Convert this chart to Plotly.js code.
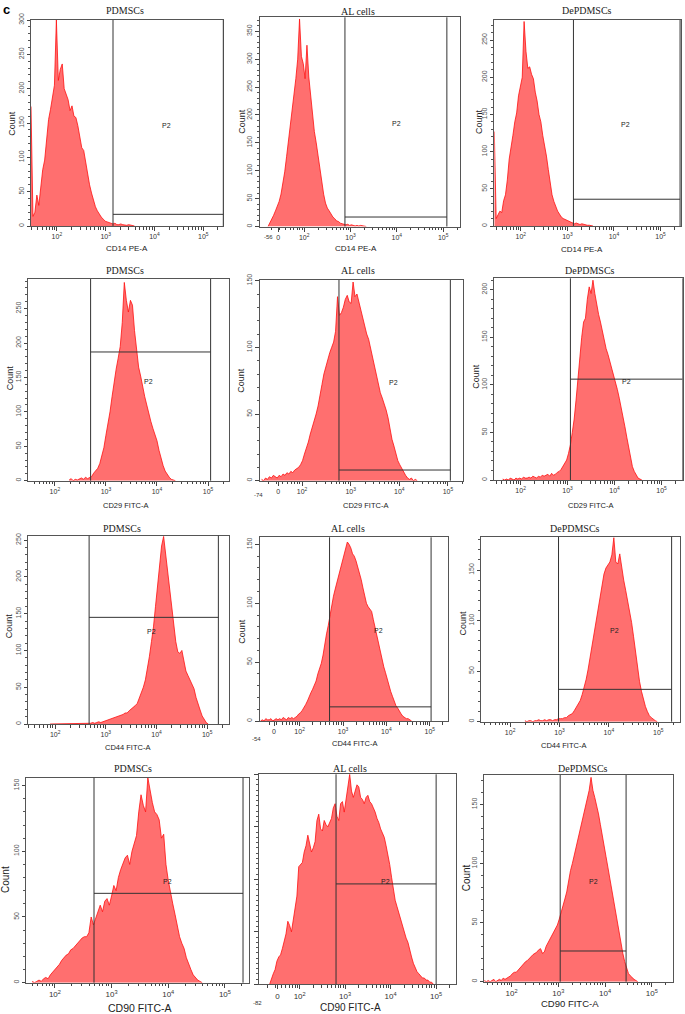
<!DOCTYPE html>
<html><head><meta charset="utf-8">
<script src="https://cdn.plot.ly/plotly-3.0.1.min.js"></script>
<style>html,body{margin:0;padding:0;background:#fff}#chart{width:685px;height:1014px}</style>
</head><body><div id="chart"></div>
<script>
// ---------------- DATA (counts per bin, bins in display decades) ----------------
const binWidth = 0.04;
const cellTypes = ["PDMSCs", "AL cells", "DePDMSCs"];
const markers = ["CD14 PE-A", "CD29 FITC-A", "CD44 FITC-A", "CD90 FITC-A"];
const decadeTickVals = [2, 3, 4, 5];
const decadeTickText = ["10<sup>2</sup>", "10<sup>3</sup>", "10<sup>4</sup>", "10<sup>5</sup>"];
const yMajorStep = 50;

// CD14 PE-A
const cd14_PDMSCs_start = 1.47;
const cd14_PDMSCs = [174,14,20,45,30,60,82,96,122,155,170,185,205,300,212,228,236,200,190,184,168,175,160,158,146,130,114,110,92,78,60,48,38,28,22,17,13,10,7,6,5,4,3,4,2,2,3,2,1,1,2,1,1,0];
const cd14_AL_start = 1.22;
const cd14_AL = [0,6,12,20,28,36,45,58,75,98,125,152,180,205,238,265,300,372,305,292,265,325,268,232,200,170,150,126,100,78,58,42,33,28,22,17,14,10,9,6,5,4,3,4,2,3,2,1,2,1,2,1,1,0];
const cd14_DePDMSCs_start = 1.43;
const cd14_DePDMSCs = [127,10,15,20,18,34,42,62,90,104,122,140,152,175,186,200,275,235,212,214,204,198,180,168,150,140,122,110,94,76,58,42,33,26,20,16,12,10,9,8,6,5,4,3,4,3,2,3,2,2,1,1,1,0];
// CD29 FITC-A
const cd29_PDMSCs_start = 2.28;
const cd29_PDMSCs = [1,3,0,2,1,3,4,2,5,3,4,6,11,14,18,25,35,48,66,82,100,122,144,162,178,195,230,288,262,245,262,255,218,188,165,152,134,122,110,96,86,76,66,58,44,32,22,14,9,5,2,1,0];
const cd29_AL_start = 1.17;
const cd29_AL = [1,0,2,1,3,2,4,3,2,4,3,5,4,6,5,7,6,8,9,10,12,15,20,24,29,35,40,44,50,56,63,72,80,86,90,96,100,104,112,138,124,126,130,136,139,134,133,149,138,140,134,128,120,115,110,106,99,92,85,78,72,66,62,58,53,47,38,31,26,20,15,12,9,6,4,2,1,2,0,1,0];
const cd29_DePDMSCs_start = 1.62;
const cd29_DePDMSCs = [1,0,1,0,2,1,0,2,1,2,1,3,2,2,3,2,4,3,2,4,3,5,4,5,6,4,7,5,6,8,9,11,14,17,21,28,37,50,64,84,108,128,150,166,170,190,203,196,210,196,184,174,166,156,146,138,132,125,118,110,102,95,86,77,68,56,45,34,22,14,9,5,2,1,0];
// CD44 FITC-A
const cd44_PDMSCs_start = 1.90;
const cd44_PDMSCs = [0,0,1,0,0,1,0,0,0,1,0,0,0,0,0,0,0,0,0,0,1,2,1,2,3,2,3,4,5,5,7,8,8,10,11,12,13,15,15,18,20,22,25,28,35,42,50,60,74,92,112,132,160,185,208,242,255,230,205,178,155,132,112,98,96,100,84,72,66,60,56,48,36,26,19,11,6,2,0];
const cd44_AL_start = 1.10;
const cd44_AL = [0,1,0,2,1,1,2,0,1,2,1,2,1,3,2,1,3,2,3,2,3,4,6,7,9,11,14,17,21,24,27,30,34,40,44,49,56,66,74,81,90,98,106,112,118,124,130,134,142,146,152,150,147,142,140,136,131,125,120,113,106,100,97,95,93,86,79,73,67,60,53,46,41,35,30,25,21,16,13,11,8,6,4,3,2,2,1,0];
const cd44_DePDMSCs_start = 2.30;
const cd44_DePDMSCs = [1,0,1,1,0,1,1,2,1,1,2,1,2,2,1,2,2,3,3,3,4,4,6,7,8,11,14,17,21,27,34,42,52,64,75,87,102,114,126,136,146,152,155,158,165,182,158,156,166,150,140,130,120,108,98,84,68,54,40,30,21,15,10,6,4,2,1,0];
// CD90 FITC-A
const cd90_PDMSCs_start = 1.60;
const cd90_PDMSCs = [1,0,1,2,1,3,4,3,6,8,10,12,14,17,19,21,22,25,26,28,30,32,34,35,35,38,50,44,49,55,59,54,62,64,59,66,74,70,80,86,90,95,97,90,100,106,112,130,143,135,130,156,145,137,130,128,124,110,113,90,78,68,60,52,44,35,30,26,19,14,10,6,4,2,1,0];
const cd90_AL_start = 1.34;
const cd90_AL = [0,3,5,7,11,13,14,17,20,24,30,28,25,31,35,42,56,57,58,63,66,71,66,63,65,68,78,81,74,73,78,76,75,77,79,84,86,80,78,86,87,82,88,94,100,92,89,92,95,94,89,88,86,89,90,87,86,84,82,79,77,74,72,70,66,62,57,51,45,40,37,34,30,27,24,22,20,16,13,10,8,6,5,4,3,3,2,2,1,1,0];
const cd90_DePDMSCs_start = 1.42;
const cd90_DePDMSCs = [1,0,1,0,1,2,0,1,2,1,3,2,3,4,5,7,8,8,10,11,14,15,17,18,20,21,23,24,25,27,28,24,25,30,33,37,40,42,45,48,53,58,64,70,76,86,94,100,107,114,121,127,134,140,148,155,162,173,162,156,150,142,133,125,116,106,97,88,79,70,60,50,40,31,24,17,11,7,5,3,2,1,0];

// P2 gate (display decades / count)
const gateLow   = [3.15, 2.88, 3.13, 2.70, 2.76, 3.06, 2.67, 2.69, 2.98, 2.69, 2.80, 3.04];
const gateHigh  = [5.41, 5.08, 5.42, 5.05, 5.05, 5.45, 5.22, 5.03, 5.27, 5.32, 5.00, 4.45];
const gateLevel = [17, 17, 36, 187, 8, 106, 145, 12, 32, 68, 47.8, 26];
const gateLabelX = [4.24, 4.00, 4.25, 3.83, 3.88, 4.25, 3.90, 3.81, 4.11, 3.98, 3.88, 3.75];
const gateLabelY = [147, 185, 136, 144, 74, 103, 126, 77, 90, 77, 49, 85];
// axis extents
const xRanges = [[1.47,5.41],[1.04,5.37],[1.43,5.44],[1.48,5.41],[1.13,5.31],[1.44,5.45],[1.47,5.43],[1.08,5.42],[1.41,5.44],[1.49,5.42],[1.10,5.43],[1.41,5.46]];
const yMax = [300, 375, 277, 293, 150.5, 212, 256, 156, 183, 156, 100, 175];
// biexponential "0" tick and negative minimum label for AL cells panels
const zeroTickPos = {1: 1.44, 4: 1.51, 7: 1.41, 10: 1.51};
const negMinLabel = {1: "-56", 4: "-74", 7: "-54", 10: "-82"};

// ---------------- LAYOUT GEOMETRY (pixels) ----------------
const W = 685, H = 1014;
const boxes = [[31,20,223.3,226],[259.7,17.3,460.3,226.5],[494.3,20,681,226],
  [28.3,279,229,480.7],[259.7,280,463,480.7],[494.3,278.3,682.7,480],
  [28.3,535.7,229,724],[259.7,537.3,448,721],[481,536.7,680,721.7],
  [26,777.7,248.7,982.7],[258.7,774.3,455.7,984.3],[484,775,673.3,981.7]];
const titlePos = [[125,11],[358,11.7],[586.7,11],[125,270.7],[358,270.7],[590,270.7],[121.7,528.3],[348,528.3],[575,528.3],[133.3,768.3],[350.3,768.3],[583.3,768.3]];
const xTitlePos = [[127,248],[356,248],[582,249],[125,505],[365,505],[590,505],[127,747],[354,743],[563,745],[140,1008],[350,1007],[570,1003]];
const countPos = [[11.7,123],[242,121.7],[478.3,121.7],[10,378.3],[240.7,380],[476,376.7],[9.3,626],[242,631.7],[463.3,623.3],[5,880],null,[466,878.3]];
const negLabelPos = {1:[268,237], 4:[258,495], 7:[256.3,739.3], 10:[257.3,1003.3]};
const xTitleSize = [8,8,8,7.5,7.5,7.5,7.5,7.5,7.5,10.5,10,9.5];

const series = [
  [cd14_PDMSCs, cd14_PDMSCs_start],[cd14_AL, cd14_AL_start],[cd14_DePDMSCs, cd14_DePDMSCs_start],
  [cd29_PDMSCs, cd29_PDMSCs_start],[cd29_AL, cd29_AL_start],[cd29_DePDMSCs, cd29_DePDMSCs_start],
  [cd44_PDMSCs, cd44_PDMSCs_start],[cd44_AL, cd44_AL_start],[cd44_DePDMSCs, cd44_DePDMSCs_start],
  [cd90_PDMSCs, cd90_PDMSCs_start],[cd90_AL, cd90_AL_start],[cd90_DePDMSCs, cd90_DePDMSCs_start]
];

const minorLogTicks = [];
for (let d = 0; d <= 5; d++) for (let k = 2; k <= 9; k++) minorLogTicks.push(d + Math.log10(k));

const px2x = p => p / W, px2y = p => 1 - p / H;
const SANS = "Liberation Sans, Arial, sans-serif";
const SERIF = "Liberation Serif, Times New Roman, serif";

const traces = [], shapes = [], annotations = [];
const layout = {
  width: W, height: H, margin: {l:0, r:0, t:0, b:0},
  paper_bgcolor: "#fff", plot_bgcolor: "#fff", showlegend: false
};

series.forEach(([counts, start], i) => {
  const n = i + 1, sfx = n === 1 ? "" : String(n);
  const row = Math.floor(i / 3), col = i % 3;
  const [L, T, R, B] = boxes[i];
  const xa = "x" + sfx, ya = "y" + sfx;
  traces.push({
    type: "scatter", mode: "lines", y: counts, x0: start, dx: binWidth,
    xaxis: xa, yaxis: ya, fill: "tozeroy", fillcolor: "rgba(255,70,70,0.78)",
    line: {color: "#ff1010", width: 0.8}, hoverinfo: "skip"
  });
  let tv = decadeTickVals.slice(), tt = decadeTickText.slice();
  if (zeroTickPos[i] !== undefined) { tv.unshift(zeroTickPos[i]); tt.unshift("0"); }
  const tickSize = row === 3 ? 8 : 7;
  layout["xaxis" + sfx] = {
    domain: [px2x(L), px2x(R)], range: xRanges[i], anchor: ya,
    showline: true, mirror: true, linecolor: "#555", linewidth: 1,
    showgrid: false, zeroline: false, ticks: "outside", ticklen: 4, tickwidth: 1, tickcolor: "#444",
    tickmode: "array", tickvals: tv, ticktext: tt,
    tickfont: {family: SANS, size: tickSize, color: "#333"},
    minor: {tickmode: "array", tickvals: minorLogTicks, ticks: "outside", ticklen: 2.5, tickwidth: 1, tickcolor: "#444", showgrid: false},
    fixedrange: true
  };
  const noLabels = (i === 10);
  layout["yaxis" + sfx] = {
    domain: [px2y(B), px2y(T)], range: [0, yMax[i]], anchor: xa,
    showline: true, mirror: true, linecolor: "#555", linewidth: 1,
    showgrid: false, zeroline: false, ticks: "outside", ticklen: 3.5, tickwidth: 1, tickcolor: "#444",
    tickmode: "linear", tick0: 0, dtick: noLabels ? 25 : yMajorStep, showticklabels: !noLabels,
    tickangle: -90, tickfont: {family: SANS, size: 7, color: "#555"},
    minor: {dtick: noLabels ? 2.5 : 10, ticks: "outside", ticklen: 2, tickwidth: 1, tickcolor: "#555", showgrid: false},
    fixedrange: true
  };
  // gate
  const lineStyle = {color: "#333", width: 1};
  shapes.push({type: "line", xref: xa, yref: ya + " domain", x0: gateLow[i], x1: gateLow[i], y0: 0, y1: 1, line: lineStyle, layer: "above"});
  shapes.push({type: "line", xref: xa, yref: ya + " domain", x0: gateHigh[i], x1: gateHigh[i], y0: 0, y1: 1, line: lineStyle, layer: "above"});
  shapes.push({type: "line", xref: xa, yref: ya, x0: gateLow[i], x1: gateHigh[i], y0: gateLevel[i], y1: gateLevel[i], line: lineStyle, layer: "above"});
  annotations.push({xref: xa, yref: ya, x: gateLabelX[i], y: gateLabelY[i], text: "P2", showarrow: false,
    font: {family: SANS, size: 7, color: "#222"}, xanchor: "center", yanchor: "middle"});
  // titles
  annotations.push({xref: "paper", yref: "paper", x: px2x(titlePos[i][0]), y: px2y(titlePos[i][1]), text: cellTypes[col],
    showarrow: false, font: {family: SERIF, size: 10, color: "#222"}, xanchor: "center", yanchor: "middle"});
  annotations.push({xref: "paper", yref: "paper", x: px2x(xTitlePos[i][0]), y: px2y(xTitlePos[i][1]), text: markers[row],
    showarrow: false, font: {family: SANS, size: xTitleSize[i], color: "#222"}, xanchor: "center", yanchor: "middle"});
  if (countPos[i]) {
    annotations.push({xref: "paper", yref: "paper", x: px2x(countPos[i][0]), y: px2y(countPos[i][1]), text: "Count",
      showarrow: false, textangle: -90, font: {family: SANS, size: row === 3 ? 10 : 9, color: "#222"}, xanchor: "center", yanchor: "middle"});
  }
  if (negMinLabel[i]) {
    annotations.push({xref: "paper", yref: "paper", x: px2x(negLabelPos[i][0]), y: px2y(negLabelPos[i][1]), text: negMinLabel[i],
      showarrow: false, font: {family: SANS, size: 6, color: "#333"}, xanchor: "center", yanchor: "middle"});
  }
});

annotations.push({xref: "paper", yref: "paper", x: px2x(1), y: px2y(0), text: "<b>c</b>", showarrow: false,
  font: {family: SANS, size: 13, color: "#000"}, xanchor: "left", yanchor: "top"});

layout.shapes = shapes;
layout.annotations = annotations;
Plotly.newPlot("chart", traces, layout, {displayModeBar: false, staticPlot: true});
</script>
</body></html>
